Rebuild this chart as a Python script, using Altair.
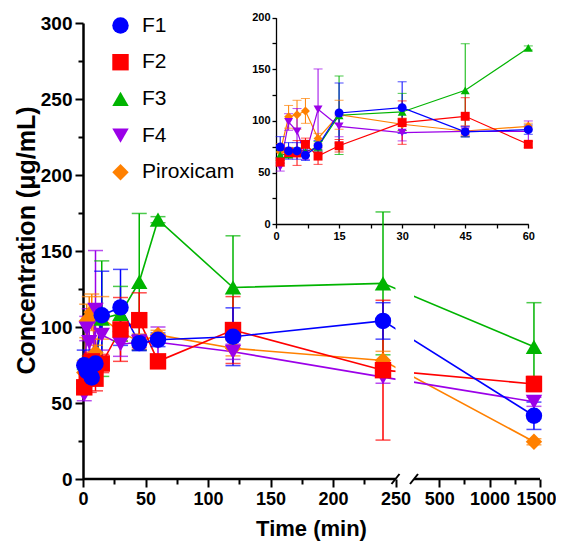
import altair as alt
import pandas as pd

FONT = "Liberation Sans"

# ---------------- data ----------------
times = [1, 3, 5, 7, 10, 15, 30, 45, 60, 120, 240, 1440]
series_names = ["F1", "F2", "F3", "F4", "Piroxicam"]
series_colors = ["#0000FF", "#FF0000", "#00B400", "#9B00E8", "#FF8000"]
series_shapes = ["circle", "square", "triangle-up", "triangle-down", "diamond"]

f1_mean = [74.8, 71.0, 71.0, 66.8, 76.0, 107.7, 112.9, 89.4, 91.6, 93.6, 104.0, 41.6]
f1_sd = [10, 8, 8, 5, 5, 29, 25, 5, 4.5, 19, 12, 9]
f2_mean = [60.3, 69.4, 69.0, 77.4, 66.0, 76.0, 98.4, 104.5, 77.4, 98.0, 71.6, 62.5]
f2_sd = [4, 5, 12, 6, 8, 6, 21, 18, 3, 22, 46, 5]
f3_mean = [67.0, 68.0, 70.0, 70.0, 75.0, 105.5, 108.7, 129.7, 170.6, 126.0, 128.7, 87.0]
f3_sd = [5, 4, 4, 4, 5, 38, 18, 45, 2, 34, 47, 29]
f4_mean = [55.5, 99.0, 90.0, 66.8, 111.3, 94.8, 88.7, 90.0, 90.0, 83.7, 67.0, 50.8]
f4_sd = [4, 8, 22, 4, 39, 10, 8, 5, 10, 5, 4, 3]
pir_mean = [70.0, 104.0, 106.0, 109.7, 83.0, 106.0, 96.8, 90.3, 94.8, 86.0, 78.0, 24.5]
pir_sd = [8, 11, 14, 12, 5, 14, 6, 5, 3, 5, 6, 2]

# axis ticks
x_ticks = [0, 25, 50, 75, 100, 125, 150, 175, 200, 225, 250, 500, 750, 1000, 1250, 1500]
y_ticks = [0, 25, 50, 75, 100, 125, 150, 175, 200, 225, 250, 275, 300]
inset_x_ticks = [0, 7.5, 15, 22.5, 30, 37.5, 45, 52.5, 60]
inset_y_ticks = [0, 25, 50, 75, 100, 125, 150, 175, 200]
inset_t_max = 60

# broken axis: left segment 0-250, right segment 250-1500
x_break = [250, 250.001]
x_end = 1500

# ---------------- tables ----------------
rows = []
for rank, (name, means, sds) in enumerate(zip(
        series_names,
        [f1_mean, f2_mean, f3_mean, f4_mean, pir_mean],
        [f1_sd, f2_sd, f3_sd, f4_sd, pir_sd])):
    for t, m, s in zip(times, means, sds):
        rows.append({"series": name, "grp": name, "t": t, "mean": m,
                     "lo": m - s, "hi": m + s, "rank": rank})
df = pd.DataFrame(rows).sort_values(["rank", "t"], ascending=[False, True])
df_in = df[df["t"] <= inset_t_max]

mask_df = pd.DataFrame({"x0": [x_break[0]], "x1": [x_break[1]], "y0": [0], "y1": [140]})
seg_df = pd.DataFrame({"x0": [0, x_break[1]], "x1": [x_break[0], x_end], "y": [0, 0]})
slash_df = pd.DataFrame({"bx": x_break, "by": [0, 0]})

# ---------------- layout ----------------
W, H = 457, 456
x_main = alt.Scale(domain=[0, x_break[0], x_break[1], x_end], range=[0, 312.5, 331, W], nice=False, zero=False)
y_main = alt.Scale(domain=[0, 300], nice=False)
x_in = alt.Scale(domain=[0, 60], range=[193, 445.3], nice=False)
y_in = alt.Scale(domain=[0, 200], range=[201.3, -5.4], nice=False)

color_scale = alt.Scale(domain=series_names, range=series_colors)
shape_scale = alt.Scale(domain=series_names, range=series_shapes)
# stroke/fill scales take their (identical, sorted) domain from the data field "grp"
grp_scale = alt.Scale(range=series_colors)

major_x = "(datum.value <= 250 && datum.value % 50 === 0) || datum.value % 500 === 0"
ax_x = alt.Axis(
    values=x_ticks, format="d", orient="bottom", domain=False, labelOverlap=False,
    labelFlush=False,
    labelExpr=f"({major_x}) ? datum.label : ''",
    tickSize={"condition": {"test": major_x, "value": 8}, "value": 5},
    labelOffset={"condition": {"test": "datum.value === 1500", "value": -4}, "value": 0},
    tickWidth=2, labelFontSize=18, labelFontWeight="bold", labelPadding=3,
    title="Time (min)", titleFontSize=22, titleFontWeight="bold",
    titleX=228, titleY=56, titleBaseline="alphabetic", titleAnchor="middle")
ax_y = alt.Axis(
    values=y_ticks, orient="left", domainWidth=2.5, tickWidth=2, labelOverlap=False,
    labelFlush=False,
    labelExpr="datum.value % 50 === 0 ? datum.label : ''",
    tickSize={"condition": {"test": "datum.value % 50 === 0", "value": 8}, "value": 5},
    labelFontSize=19, labelFontWeight="bold", labelPadding=3,
    title="Concentration (μg/mL)", titleFontSize=25, titleFontWeight="bold",
    titleX=-57, titleY=217, titleBaseline="middle", titleAngle=-90)

ax_x_in = alt.Axis(
    values=inset_x_ticks, orient="bottom", offset=-255, domainWidth=1.3, tickWidth=1.3,
    tickSize=4, labelOverlap=False, labelFlush=False,
    labelExpr="datum.value % 15 === 0 ? datum.label : ''",
    labelFontSize=11, labelFontWeight="bold", labelPadding=2, title=None)
ax_y_in = alt.Axis(
    values=inset_y_ticks, orient="left", offset=-193, domainWidth=1.3, tickWidth=1.3,
    tickSize=4, labelOverlap=False, labelFlush=False,
    labelExpr="datum.value % 50 === 0 ? datum.label : ''",
    labelFontSize=11, labelFontWeight="bold", labelPadding=2, title=None)

legend = alt.Legend(
    title=None, orient="none", legendX=27, legendY=-8, symbolSize=270,
    labelFontSize=21, labelFont=FONT, labelColor="black", rowPadding=14.7,
    labelOffset=11, symbolStrokeWidth=0, symbolOpacity=1)
stroke_enc = alt.Stroke("grp:N", scale=grp_scale, legend=None)
fill_enc = alt.Fill("grp:N", scale=grp_scale, legend=None)
color_leg = alt.Color("series:N", scale=color_scale, legend=legend)
shape_leg = alt.Shape("series:N", scale=shape_scale, legend=legend)


def xm(field):
    return alt.X(field, type="quantitative", scale=x_main, axis=ax_x)


def ym(field):
    return alt.Y(field, type="quantitative", scale=y_main, axis=ax_y)


def xi(field):
    return alt.X(field, type="quantitative", scale=x_in, axis=ax_x_in)


def yi(field):
    return alt.Y(field, type="quantitative", scale=y_in, axis=ax_y_in)


# ---------------- main plot ----------------
base = alt.Chart(df)
lines = base.mark_line(strokeWidth=1.6).encode(
    x=xm("t"), y=ym("mean"), stroke=stroke_enc, detail="grp:N")
bars = base.mark_rule(strokeWidth=1.5).encode(
    x=xm("t"), y=ym("lo"), y2="hi:Q", stroke=stroke_enc)
caps_lo = base.mark_tick(orient="horizontal", size=15, thickness=1.5).encode(
    x=xm("t"), y=ym("lo"), fill=fill_enc)
caps_hi = base.mark_tick(orient="horizontal", size=15, thickness=1.5).encode(
    x=xm("t"), y=ym("hi"), fill=fill_enc)
points = base.mark_point(filled=True, size=270, opacity=1).encode(
    x=xm("t"), y=ym("mean"), color=color_leg, shape=shape_leg)

mask = alt.Chart(mask_df).mark_rect(color="white").encode(
    x=xm("x0"), x2="x1:Q", y=ym("y0"), y2="y1:Q")
axis_segments = alt.Chart(seg_df).mark_rule(strokeWidth=2.5, color="black").encode(
    x=xm("x0"), x2="x1:Q", y=ym("y"))
slashes = alt.Chart(slash_df).mark_rule(
    strokeWidth=2, color="black", xOffset=-4, x2Offset=4, yOffset=5, y2Offset=-5).encode(
    x=xm("bx"), x2="bx:Q", y=ym("by"), y2="by:Q")

main = alt.layer(lines, bars, caps_lo, caps_hi, points, mask, axis_segments, slashes)

# ---------------- inset ----------------
ib = alt.Chart(df_in)
in_lines = ib.mark_line(strokeWidth=1.2).encode(
    x=xi("t"), y=yi("mean"), stroke=stroke_enc, detail="grp:N")
in_bars = ib.mark_rule(strokeWidth=1).encode(
    x=xi("t"), y=yi("lo"), y2="hi:Q", stroke=stroke_enc)
in_caps_lo = ib.mark_tick(orient="horizontal", size=9, thickness=1).encode(
    x=xi("t"), y=yi("lo"), fill=fill_enc)
in_caps_hi = ib.mark_tick(orient="horizontal", size=9, thickness=1).encode(
    x=xi("t"), y=yi("hi"), fill=fill_enc)
in_points = ib.mark_point(filled=True, size=80, opacity=1).encode(
    x=xi("t"), y=yi("mean"), color=color_leg, shape=shape_leg)

inset = alt.layer(in_lines, in_bars, in_caps_lo, in_caps_hi, in_points)

chart = alt.layer(main, inset).resolve_scale(
    x="independent", y="independent"
).properties(
    width=W, height=H,
    autosize=alt.AutoSizeParams(type="none"),
    padding={"left": 75, "top": 15, "right": 16, "bottom": 65},
).configure_view(stroke=None).configure_axis(
    grid=False, labelFont=FONT, titleFont=FONT, labelColor="black", titleColor="black",
    tickColor="black", domainColor="black"
).configure_legend(padding=0)

chart.save("out.html", embed_options={"renderer": "svg", "actions": False})
